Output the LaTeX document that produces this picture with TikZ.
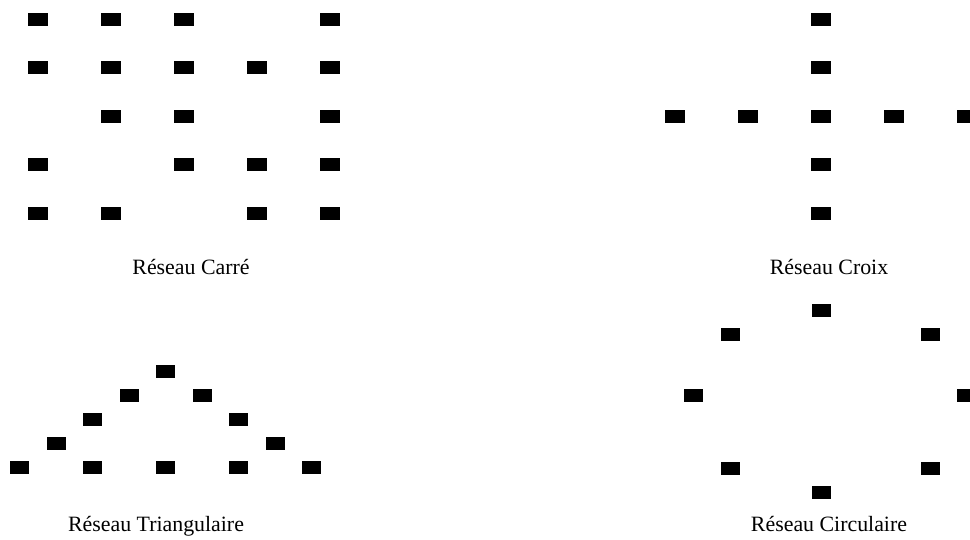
\documentclass[tikz,border=0pt]{standalone}
\usepackage{fontspec}
\setmainfont{Liberation Serif}
\usepackage{tikz}

\begin{document}
\begin{tikzpicture}[
  x=0.75pt,y=-0.75pt,
  site/.style={fill=black,inner sep=0pt,minimum width=14.5pt,minimum height=9.75pt},
  lab/.style={font=\fontsize{16.4}{19}\selectfont,anchor=base,align=center}
]
  \useasboundingbox (0,0) rectangle (970,539);

  % Square lattice (row/column of each occupied site)
  \foreach \r/\c in {0/0,0/1,0/2,0/4, 1/0,1/1,1/2,1/3,1/4, 2/1,2/2,2/4,
                     3/0,3/2,3/3,3/4, 4/0,4/1,4/3,4/4} {
    \node[site] (sq-\r-\c) at (38+73*\c,19+48.6*\r) {};
  }
  \node[lab] (carre) at (191,274) {Réseau Carré};

  % Cross lattice
  \foreach \i in {0,...,4} {
    \node[site] (crh-\i) at (675+73*\i,116.2) {};
  }
  \foreach \i in {0,1,3,4} {
    \node[site] (crv-\i) at (821,19+48.6*\i) {};
  }
  \node[lab] (croix) at (829,274) {Réseau Croix};

  % Triangular lattice
  \foreach \j/\k in {0/0,1/-1,1/1,2/-2,2/2,3/-3,3/3,4/-4,4/-2,4/0,4/2,4/4} {
    \node[site] (tr-\j-\k) at (165.7+36.5*\k,371+24.2*\j) {};
  }
  \node[lab] (triang) at (156,531) {Réseau Triangulaire};

  % Circular lattice
  \foreach \n/\px/\py in {a/821.3/310.3,b/730.2/334.5,c/930.2/334.5,d/693.7/395,
                          e/966.3/395,f/730.2/468.5,g/930.2/468.5,h/821.3/492.5} {
    \node[site] (ci-\n) at (\px,\py) {};
  }
  \node[lab] (circ) at (829,531) {Réseau Circulaire};
\end{tikzpicture}
\end{document}
